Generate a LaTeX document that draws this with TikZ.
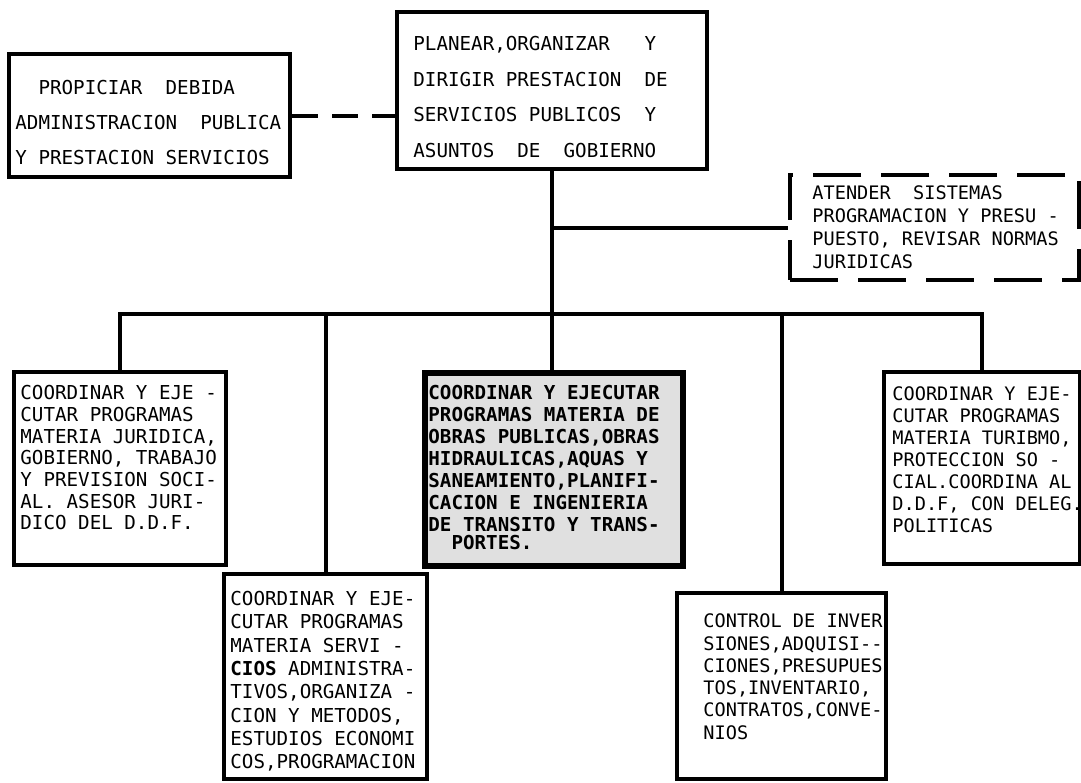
\documentclass[tikz,border=0pt]{standalone}
\usepackage{fontspec}
\setmonofont{DejaVu Sans Mono}
\usepackage{tikz}
\usetikzlibrary{positioning}

\begin{document}
\begin{tikzpicture}[x=0.5pt, y=-0.5pt,
		caja/.style={draw, line width=2pt, anchor=north west, inner sep=0pt},
		texto/.style 2 args={anchor=north west, inner sep=0pt, align=left, font=\ttfamily\frenchspacing\fontsize{#1}{#2}\selectfont},
		linea/.style={line width=2pt}]
		\useasboundingbox (0,0) rectangle (1081,782);
		
		\node[caja, minimum width=155pt, minimum height=78.5pt] (plan) at (395,10) {};
		\node[caja, minimum width=140.5pt, minimum height=61.5pt] (propiciar) at (7,52) {};
		\node[caja, dash pattern=on 24pt off 10pt, minimum width=144.5pt, minimum height=52.5pt] (atender) at (788,173) {};
		\node[caja, minimum width=106pt, minimum height=96.5pt] (juridica) at (12,370) {};
		\node[caja, minimum width=101.5pt, minimum height=102.5pt] (servicios) at (222,572) {};
		\node[caja, line width=3pt, fill=black!12, minimum width=129pt, minimum height=96.5pt] (obras) at (422,370) {};
		\node[caja, minimum width=104.5pt, minimum height=93pt] (control) at (675,591) {};
		\node[caja, minimum width=98pt, minimum height=96pt] (turismo) at (882,370) {};
		
		\node[texto={9.6}{17.75}] (plan-t) at ([shift={(18,26)}]plan.north west) {PLANEAR,ORGANIZAR\ \ \ Y\\DIRIGIR PRESTACION\ \ DE\\SERVICIOS PUBLICOS\ \ Y\\ASUNTOS\ \ DE\ \ GOBIERNO};
		\node[texto={9.6}{17.5}] (propiciar-t) at ([shift={(8,28)}]propiciar.north west) {\hphantom{XX}PROPICIAR\ \ DEBIDA\\ADMINISTRACION\ \ PUBLICA\\Y PRESTACION SERVICIOS};
		\node[texto={9.3}{11.5}] (atender-t) at ([shift={(24,12.5)}]atender.north west) {ATENDER\ \ SISTEMAS\\PROGRAMACION Y PRESU -\\PUESTO, REVISAR NORMAS\\JURIDICAS};
		\node[texto={9.6}{10.85}] (juridica-t) at ([shift={(8,15)}]juridica.north west) {COORDINAR Y EJE -\\CUTAR PROGRAMAS\\MATERIA JURIDICA,\\GOBIERNO, TRABAJO\\Y PREVISION SOCI-\\AL. ASESOR JURI-\\DICO DEL D.D.F.};
		\node[texto={9.6}{11.65}] (servicios-t) at ([shift={(8,19)}]servicios.north west) {COORDINAR Y EJE-\\CUTAR PROGRAMAS\\MATERIA SERVI -\\\textbf{CIOS} ADMINISTRA-\\TIVOS,ORGANIZA -\\CION Y METODOS,\\ESTUDIOS ECONOMI\\COS,PROGRAMACION};
		\node[texto={9.6}{11}, font=\ttfamily\bfseries\fontsize{9.6}{11}\selectfont] (obras-t) at ([shift={(6,15)}]obras.north west) {COORDINAR Y EJECUTAR\\PROGRAMAS MATERIA DE\\OBRAS PUBLICAS,OBRAS\\HIDRAULICAS,AQUAS Y\\SANEAMIENTO,PLANIFI-\\CACION E INGENIERIA\\DE TRANSITO Y TRANS-\\[-2pt]\hphantom{XX}PORTES.};
		\node[texto={9.3}{11.15}] (control-t) at ([shift={(28,22.5)}]control.north west) {CONTROL DE INVER\\SIONES,ADQUISI--\\CIONES,PRESUPUES\\TOS,INVENTARIO,\\CONTRATOS,CONVE-\\NIOS};
		\node[texto={9.3}{11}] (turismo-t) at ([shift={(10,16)}]turismo.north west) {COORDINAR Y EJE-\\CUTAR PROGRAMAS\\MATERIA TURIBMO,\\PROTECCION SO -\\CIAL.COORDINA AL\\D.D.F, CON DELEG.\\POLITICAS};
		
		\coordinate (bus) at (0,314);
		\draw[linea, dash pattern=on 13pt off 7pt] (propiciar.east) -- (propiciar.east -| plan.west);
		\draw[linea] (plan.south) -- (plan.south |- obras.north);
		\draw[linea] (plan.south |- atender.west) -- (atender.west);
		\draw[linea] (juridica.north) -- (juridica.north |- bus) -- (turismo.north |- bus) -- (turismo.north);
		\draw[linea] (servicios.north) -- (servicios.north |- bus);
		\draw[linea] (control.north) -- (control.north |- bus);
	\end{tikzpicture}
\end{document}
